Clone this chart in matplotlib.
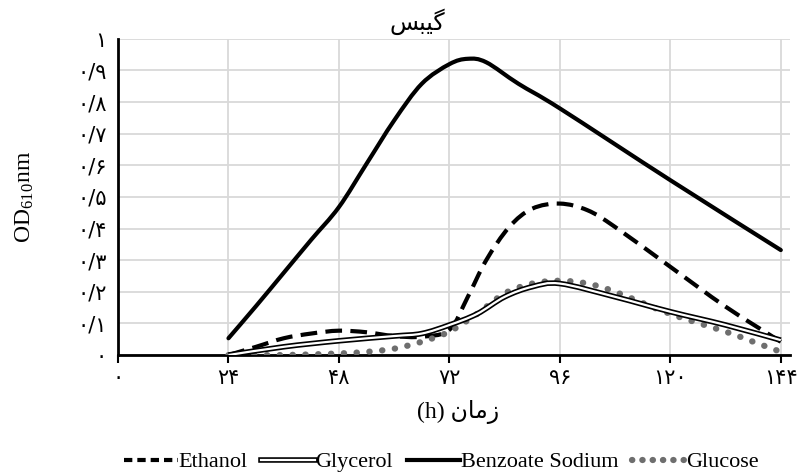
import numpy as np
import matplotlib
matplotlib.use("Agg")
import matplotlib.pyplot as plt
from matplotlib.path import Path
from matplotlib.patches import PathPatch

plt.rcParams['font.family'] = ['Liberation Serif', 'DejaVu Sans']
plt.rcParams['mathtext.fontset'] = 'stix'

# values (time in h, OD610)
benzoate_t = [24, 30, 36, 42, 48, 54, 60, 66, 72, 76, 80, 87, 96, 120, 144]
benzoate_y = [0.053, 0.155, 0.26, 0.365, 0.468, 0.605, 0.742, 0.858, 0.92, 0.937, 0.926, 0.858, 0.78, 0.553, 0.332]

ethanol_t = [24, 30, 36, 42, 48, 54, 60, 66, 72, 76, 80, 85, 90, 96, 102, 108, 120, 132, 144]
ethanol_y = [0.0, 0.026, 0.053, 0.068, 0.077, 0.072, 0.06, 0.058, 0.08, 0.184, 0.30, 0.405, 0.463, 0.479, 0.458, 0.405, 0.279, 0.153, 0.042]

glycerol_t = [24, 36, 48, 60, 66, 72, 78, 84, 90, 96, 108, 120, 132, 144]
glycerol_y = [0.0, 0.026, 0.045, 0.06, 0.068, 0.095, 0.13, 0.184, 0.216, 0.226, 0.184, 0.137, 0.095, 0.047]

glucose_t = [24, 36, 48, 54, 60, 66, 72, 78, 84, 90, 96, 102, 108, 120, 132, 138, 144]
glucose_y = [0.0, 0.0, 0.005, 0.01, 0.02, 0.042, 0.074, 0.13, 0.195, 0.226, 0.235, 0.226, 0.2, 0.13, 0.074, 0.042, 0.01]

x_ticks = [0, 24, 48, 72, 96, 120, 144]
x_labels = ['۰', '۲۴', '۴۸', '۷۲', '۹۶', '۱۲۰', '۱۴۴']
y_ticks = [0, 0.1, 0.2, 0.3, 0.4, 0.5, 0.6, 0.7, 0.8, 0.9, 1.0]
y_labels = ['۰', '۰/۱', '۰/۲', '۰/۳', '۰/۴', '۰/۵', '۰/۶', '۰/۷', '۰/۸', '۰/۹', '۱']

# Persian text in visual (left-to-right) order with presentation forms
title_txt = '\uFEB2\uFE92\uFBFF\uFB94'      # گیبس
xlabel_txt = '(h) \uFEE5\uFE8E\uFEE3\uFEAF'  # زمان (h)


def smooth_path(t, y):
    # smoothed line like the spreadsheet option: bezier segments through the points
    p = np.column_stack([t, y]).astype(float)
    verts = [p[0]]
    codes = [Path.MOVETO]
    n = len(p)
    for i in range(n - 1):
        p0 = p[max(i - 1, 0)]
        p1 = p[i]
        p2 = p[i + 1]
        p3 = p[min(i + 2, n - 1)]
        verts += [p1 + (p2 - p0) / 6, p2 - (p3 - p1) / 6, p2]
        codes += [Path.CURVE4] * 3
    return Path(verts, codes)


def draw(ax, t, y, **kw):
    ax.add_patch(PathPatch(smooth_path(t, y), fill=False, **kw))


fig = plt.figure(figsize=(8, 4.74), dpi=100)
ax = fig.add_axes([0.1475, 0.251, 0.84, 0.667])

draw(ax, benzoate_t, benzoate_y, edgecolor='black', lw=3, capstyle='round', zorder=3)
draw(ax, ethanol_t, ethanol_y, edgecolor='black', lw=3, linestyle=(0, (4, 2)), zorder=3)
draw(ax, glycerol_t, glycerol_y, edgecolor='black', lw=4, zorder=4)
draw(ax, glycerol_t, glycerol_y, edgecolor='white', lw=1.6, zorder=4)
draw(ax, glucose_t, glucose_y, edgecolor='#6e6e6e', lw=4.5, linestyle=(0, (0.05, 2.0)),
     capstyle='round', zorder=3)

ax.set_xlim(0, 146)
ax.set_ylim(0, 1.0)
ax.set_xticks(x_ticks)
ax.set_xticklabels(x_labels, family=['DejaVu Sans'], fontsize=15)
ax.set_yticks(y_ticks)
ax.set_yticklabels(y_labels, family=['DejaVu Sans'], fontsize=15)
ax.tick_params(axis='y', length=0, pad=8)
ax.tick_params(axis='x', length=6, width=1.5, direction='out', pad=3)
ax.grid(True, color='#d9d9d9', lw=1.3)
ax.set_axisbelow(True)
for s in ['top', 'right']:
    ax.spines[s].set_visible(False)
for s in ['left', 'bottom']:
    ax.spines[s].set_linewidth(2)

ax.set_ylabel(r'OD$_{\mathregular{610}}$nm', fontsize=17, labelpad=30)
fig.text(0.573, 0.131, xlabel_txt, ha='center', va='center', fontsize=17,
         family=['Liberation Serif', 'DejaVu Sans'])
fig.text(0.522, 0.955, title_txt, ha='center', va='center', fontsize=17,
         family=['DejaVu Sans'])

h_eth, = ax.plot([], [], color='black', lw=3, dashes=(2, 1.2))
h_gout, = ax.plot([], [], color='black', lw=4)
h_gin, = ax.plot([], [], color='white', lw=1.6)
h_ben, = ax.plot([], [], color='black', lw=3)
h_glu, = ax.plot([], [], color='#6e6e6e', lw=4.5, linestyle=(0, (0.05, 1.6)), dash_capstyle='round')
fig.legend([h_eth, (h_gout, h_gin), h_ben, h_glu],
           ['Ethanol', 'Glycerol', 'Benzoate Sodium', 'Glucose'],
           loc='center', bbox_to_anchor=(0.552, 0.025), ncol=4, frameon=False,
           fontsize=16, handlelength=2.4, handletextpad=0.05, columnspacing=0.6)

fig.savefig('out.png', dpi=100)
